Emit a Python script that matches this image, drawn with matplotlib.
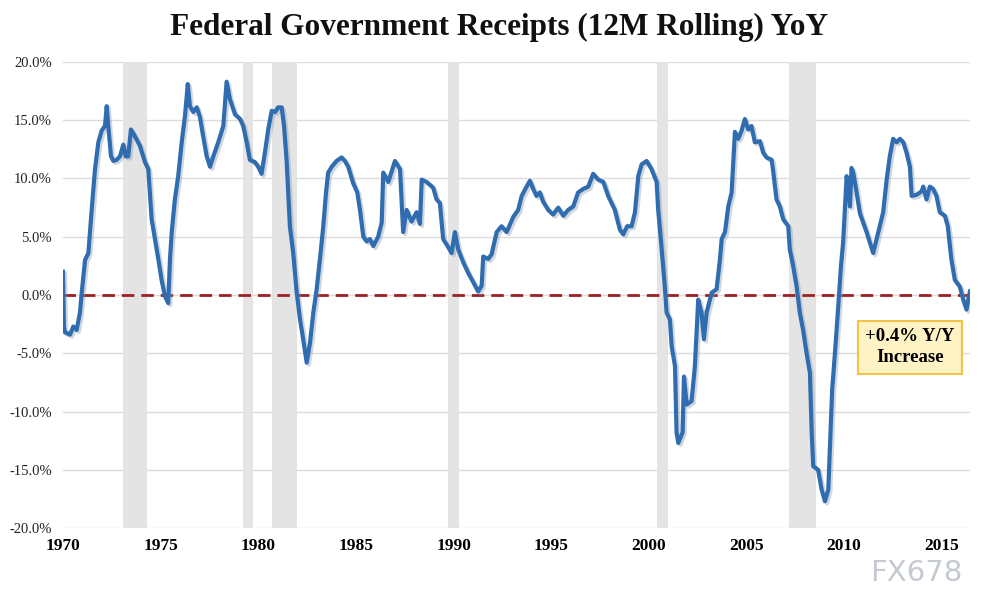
import numpy as np
import matplotlib.pyplot as plt
import matplotlib.patheffects as pe
from matplotlib.ticker import FuncFormatter

# 12M rolling federal receipts, YoY % change
years = [
    1970.00, 1970.05, 1970.10, 1970.36, 1970.53, 1970.70, 1970.87, 1970.96, 1971.13, 1971.30,
    1971.47, 1971.64, 1971.81, 1971.98, 1972.15, 1972.24, 1972.32, 1972.46, 1972.58, 1972.75,
    1972.92, 1973.09, 1973.21, 1973.34, 1973.48, 1973.69, 1973.94, 1974.20, 1974.37, 1974.45,
    1974.54, 1974.71, 1974.88, 1975.05, 1975.22, 1975.39, 1975.48, 1975.57, 1975.73, 1975.90,
    1976.08, 1976.25, 1976.39, 1976.50, 1976.67, 1976.85, 1977.01, 1977.18, 1977.36, 1977.53,
    1977.70, 1977.95, 1978.21, 1978.38, 1978.55, 1978.81, 1979.07, 1979.23, 1979.41, 1979.57,
    1979.83, 1980.00, 1980.17, 1980.34, 1980.51, 1980.69, 1980.86, 1981.02, 1981.20, 1981.32,
    1981.45, 1981.62, 1981.79, 1981.97, 1982.14, 1982.30, 1982.48, 1982.65, 1982.82, 1982.99,
    1983.16, 1983.33, 1983.47, 1983.58, 1983.76, 1984.01, 1984.27, 1984.44, 1984.61, 1984.86,
    1985.07, 1985.21, 1985.38, 1985.55, 1985.72, 1985.89, 1986.14, 1986.32, 1986.40, 1986.66,
    1987.00, 1987.26, 1987.42, 1987.60, 1987.85, 1988.11, 1988.28, 1988.37, 1988.62, 1988.96,
    1989.13, 1989.30, 1989.47, 1989.73, 1989.90, 1990.07, 1990.24, 1990.50, 1990.75, 1991.01,
    1991.26, 1991.44, 1991.52, 1991.78, 1991.95, 1992.21, 1992.46, 1992.72, 1993.06, 1993.31,
    1993.49, 1993.74, 1993.91, 1994.08, 1994.25, 1994.42, 1994.59, 1994.85, 1995.10, 1995.36,
    1995.62, 1995.87, 1996.13, 1996.38, 1996.64, 1996.90, 1997.15, 1997.41, 1997.67, 1997.92,
    1998.26, 1998.52, 1998.69, 1998.89, 1999.12, 1999.29, 1999.46, 1999.63, 1999.89, 2000.14,
    2000.40, 2000.48, 2000.66, 2000.82, 2000.91, 2001.08, 2001.17, 2001.34, 2001.42, 2001.51,
    2001.73, 2001.80, 2001.94, 2002.19, 2002.36, 2002.53, 2002.70, 2002.82, 2002.96, 2003.22,
    2003.47, 2003.64, 2003.73, 2003.90, 2004.07, 2004.24, 2004.41, 2004.58, 2004.75, 2004.92,
    2005.09, 2005.26, 2005.43, 2005.69, 2005.86, 2006.03, 2006.29, 2006.37, 2006.54, 2006.71,
    2006.88, 2007.14, 2007.22, 2007.39, 2007.57, 2007.73, 2007.90, 2008.08, 2008.25, 2008.34,
    2008.42, 2008.67, 2008.85, 2009.02, 2009.19, 2009.27, 2009.39, 2009.53, 2009.70, 2009.84,
    2009.95, 2010.04, 2010.13, 2010.21, 2010.30, 2010.38, 2010.47, 2010.64, 2010.81, 2011.15,
    2011.32, 2011.49, 2011.75, 2012.00, 2012.18, 2012.34, 2012.51, 2012.69, 2012.86, 2013.03,
    2013.20, 2013.37, 2013.46, 2013.71, 2013.97, 2014.05, 2014.22, 2014.39, 2014.56, 2014.73,
    2014.90, 2015.16, 2015.31, 2015.49, 2015.67, 2015.93, 2016.10, 2016.27, 2016.36, 2016.44,
]
yoy = [
    2.0, -2.7, -3.2, -3.4, -2.7, -3.0, -1.5, 0.2, 3.0, 3.6,
    7.3, 10.8, 13.1, 14.1, 14.5, 16.2, 14.5, 11.9, 11.5, 11.6,
    11.9, 12.9, 11.9, 11.9, 14.2, 13.6, 12.8, 11.4, 10.8, 8.8,
    6.5, 4.8, 3.1, 1.3, -0.1, -0.7, 3.1, 5.4, 8.2, 10.2,
    13.1, 15.4, 18.1, 16.2, 15.7, 16.1, 15.3, 13.6, 11.9, 11.0,
    11.9, 13.1, 14.5, 18.3, 16.8, 15.5, 15.1, 14.5, 13.1, 11.6,
    11.4, 11.0, 10.4, 12.2, 14.2, 15.8, 15.7, 16.1, 16.1, 14.5,
    11.6, 5.9, 3.6, 0.2, -2.1, -3.8, -5.8, -4.1, -1.5, 0.5,
    3.1, 5.9, 8.8, 10.5, 11.0, 11.5, 11.8, 11.5, 11.0, 9.6,
    8.8, 7.3, 5.0, 4.6, 4.8, 4.2, 5.0, 6.2, 10.5, 9.7,
    11.5, 10.8, 5.4, 7.3, 6.3, 7.1, 6.1, 9.9, 9.7, 9.2,
    8.2, 7.9, 4.8, 4.1, 3.6, 5.4, 3.9, 2.8, 1.9, 1.1,
    0.3, 0.8, 3.3, 3.1, 3.5, 5.4, 5.9, 5.4, 6.7, 7.3,
    8.5, 9.3, 9.8, 9.1, 8.5, 8.8, 8.0, 7.3, 6.9, 7.5,
    6.8, 7.3, 7.6, 8.8, 9.1, 9.3, 10.4, 9.9, 9.7, 8.5,
    7.3, 5.6, 5.2, 5.9, 5.9, 7.1, 10.2, 11.2, 11.5, 10.8,
    9.7, 7.3, 3.9, 0.7, -1.5, -2.1, -4.4, -6.1, -11.8, -12.7,
    -11.8, -7.0, -9.4, -9.1, -6.1, -0.4, -1.5, -3.8, -1.5, 0.2,
    0.5, 3.0, 4.8, 5.4, 7.6, 8.8, 14.0, 13.4, 14.1, 15.1,
    14.2, 14.5, 13.1, 13.2, 12.2, 11.8, 11.6, 10.6, 8.2, 7.6,
    6.5, 5.9, 3.9, 2.5, 0.7, -1.5, -3.0, -5.0, -6.7, -11.8,
    -14.7, -15.0, -16.7, -17.7, -16.7, -13.3, -8.1, -5.0, -1.0, 2.5,
    4.5, 7.3, 10.2, 9.3, 7.6, 10.9, 10.5, 8.8, 7.0, 5.4,
    4.5, 3.6, 5.4, 7.1, 9.9, 11.9, 13.4, 13.1, 13.4, 13.1,
    12.2, 11.0, 8.5, 8.6, 8.9, 9.3, 8.2, 9.3, 9.1, 8.5,
    7.1, 6.8, 5.9, 3.1, 1.3, 0.7, -0.4, -1.25, -0.4, 0.3,
]

# recession shading as placed on the chart
rec_start = [1973.09, 1979.20, 1980.72, 1989.73, 2000.40, 2007.17]
rec_end = [1974.29, 1979.74, 1981.97, 1990.28, 2000.99, 2008.54]

title = "Federal Government Receipts (12M Rolling) YoY"
note = "+0.4% Y/Y\nIncrease"

serif = ["Liberation Serif", "DejaVu Serif"]

fig = plt.figure(figsize=(9.98, 6.07), dpi=100)
ax = fig.add_axes([0.0631, 0.130, 0.9089, 0.768])

ax.set_xlim(1970, 2016.45)
ax.set_ylim(-20, 20)

yt = np.arange(-20, 21, 5)
ax.set_yticks(yt)
for v in yt:
    ax.axhline(v, color="#dcdcdc", lw=1.0, zorder=0)

for s, e in zip(rec_start, rec_end):
    ax.axvspan(s, e, color="#e4e4e4", lw=0, zorder=1)

ax.axhline(0, color="#9e1f24", lw=2.0, ls=(0, (4.5, 2.5)), zorder=2)

ax.plot(years, yoy, color="#2f6db0", lw=3.0, zorder=3,
        solid_joinstyle="round",
        path_effects=[pe.SimpleLineShadow(offset=(1.5, -1.5), shadow_color="#7f8fa6", alpha=0.35),
                      pe.Normal()])

ax.set_xticks(np.arange(1970, 2016, 5))
ax.yaxis.set_major_formatter(FuncFormatter(lambda v, p: f"{v:.1f}%"))
for lab in ax.get_xticklabels():
    lab.set_fontfamily(serif)
    lab.set_fontweight("bold")
    lab.set_fontsize(12.5)
for lab in ax.get_yticklabels():
    lab.set_fontfamily(serif)
    lab.set_fontsize(10.5)
    lab.set_color("#222222")
ax.tick_params(length=0)
ax.tick_params(axis="x", pad=7)
ax.tick_params(axis="y", pad=8)
for sp in ax.spines.values():
    sp.set_visible(False)

fig.text(0.5, 0.955, title, ha="center", va="center", fontsize=22.5,
         fontweight="bold", family=serif, color="#111111")

ax.text(2013.37, -4.5, note, ha="center", va="center", fontsize=13.5,
        fontweight="bold", family=serif, linespacing=1.3, zorder=5,
        bbox=dict(boxstyle="square,pad=0.38", fc="#fff2c4", ec="#f0c24a", lw=1.5))

fig.text(0.918, 0.056, "FX678", ha="center", va="center", fontsize=21,
         color="#c5c9d0", family=["DejaVu Sans"])

fig.savefig("out.png", dpi=100, facecolor="white")
